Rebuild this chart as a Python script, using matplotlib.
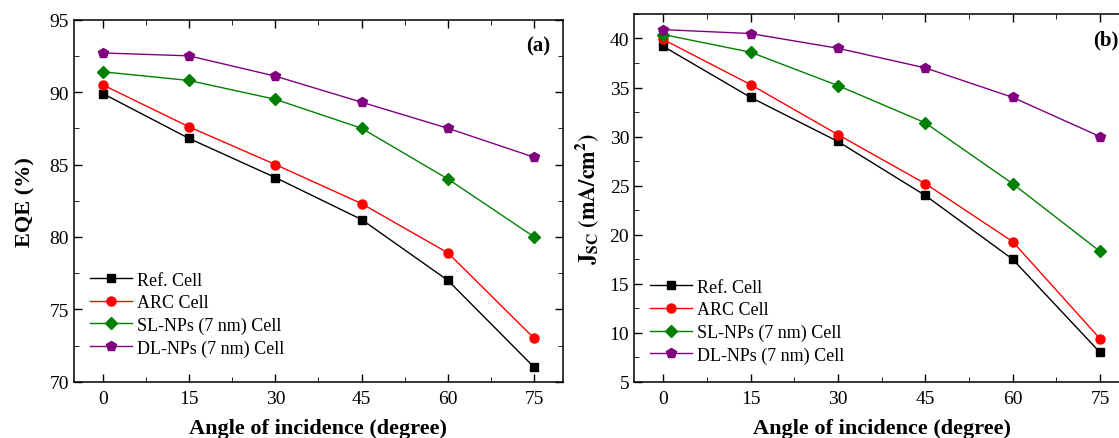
import matplotlib.pyplot as plt
from matplotlib.ticker import MultipleLocator

plt.rcParams.update({
    'font.family': 'Liberation Serif',
    'mathtext.fontset': 'stix',
    'axes.linewidth': 1.1,
    'xtick.direction': 'in',
    'ytick.direction': 'in',
    'xtick.top': True,
    'ytick.right': True,
    'xtick.major.size': 6,
    'ytick.major.size': 6,
    'xtick.minor.size': 3.5,
    'ytick.minor.size': 3.5,
    'xtick.major.width': 1.0,
    'ytick.major.width': 1.0,
    'xtick.labelsize': 14,
    'ytick.labelsize': 14,
    'xtick.major.pad': 6,
})

# ---------------------- data ----------------------
angles = [0, 15, 30, 45, 60, 75]
labels = ["Ref. Cell", "ARC Cell", "SL-NPs (7 nm) Cell", "DL-NPs (7 nm) Cell"]
colors = ["black", "red", "#008000", "#800080"]
markers = ["s", "o", "D", "p"]
msizes = [6, 6.5, 6.5, 7.5]

eqe_ref = [89.9, 86.8, 84.1, 81.2, 77.0, 71.0]
eqe_arc = [90.5, 87.6, 85.0, 82.3, 78.9, 73.0]
eqe_sl = [91.4, 90.8, 89.5, 87.5, 84.0, 80.0]
eqe_dl = [92.7, 92.5, 91.1, 89.3, 87.5, 85.5]

jsc_ref = [39.2, 34.0, 29.5, 24.0, 17.5, 8.0]
jsc_arc = [39.9, 35.3, 30.2, 25.2, 19.3, 9.4]
jsc_sl = [40.4, 38.6, 35.2, 31.4, 25.2, 18.3]
jsc_dl = [40.9, 40.5, 39.0, 37.0, 34.0, 30.0]

# ---------------------- figure ----------------------
fig = plt.figure(figsize=(11.19, 4.39), dpi=100)
ax1 = fig.add_axes([0.0661, 0.128, 0.437, 0.825])
ax2 = fig.add_axes([0.5666, 0.128, 0.4424, 0.838])

panels = [
    (ax1, [eqe_ref, eqe_arc, eqe_sl, eqe_dl], (70, 95), "EQE (%)", "(a)", 0.973, 0.304, 10),
    (ax2, [jsc_ref, jsc_arc, jsc_sl, jsc_dl], (5, 42.5),
     r"$\mathbf{J_{SC}\ (mA/cm^{2})}$", "(b)", 0.978, 0.28, 6),
]

for ax, series, ylim, ylabel, tag, tx, ly, ypad in panels:
    for vals, c, m, ms, l in zip(series, colors, markers, msizes, labels):
        ax.plot(angles, vals, color=c, marker=m, markersize=ms, lw=1.0, label=l)
    ax.set_xlim(-5, 80)
    ax.set_ylim(*ylim)
    ax.set_xticks(angles)
    ax.xaxis.set_minor_locator(MultipleLocator(7.5))
    ax.yaxis.set_major_locator(MultipleLocator(5))
    ax.yaxis.set_minor_locator(MultipleLocator(2.5))
    ax.set_xlabel("Angle of incidence (degree)", fontsize=16, fontweight='bold', labelpad=8)
    ax.set_ylabel(ylabel, fontsize=16, fontweight='bold', labelpad=ypad)
    ax.text(tx, 0.93, tag, transform=ax.transAxes, fontsize=15,
            fontweight='bold', ha='right', va='center')
    ax.legend(loc='upper left', bbox_to_anchor=(0.033, ly), frameon=False,
              fontsize=13, handlelength=2.3, handletextpad=0.3,
              labelspacing=0.3, borderaxespad=0, borderpad=0)

fig.savefig("out.png", dpi=100)
